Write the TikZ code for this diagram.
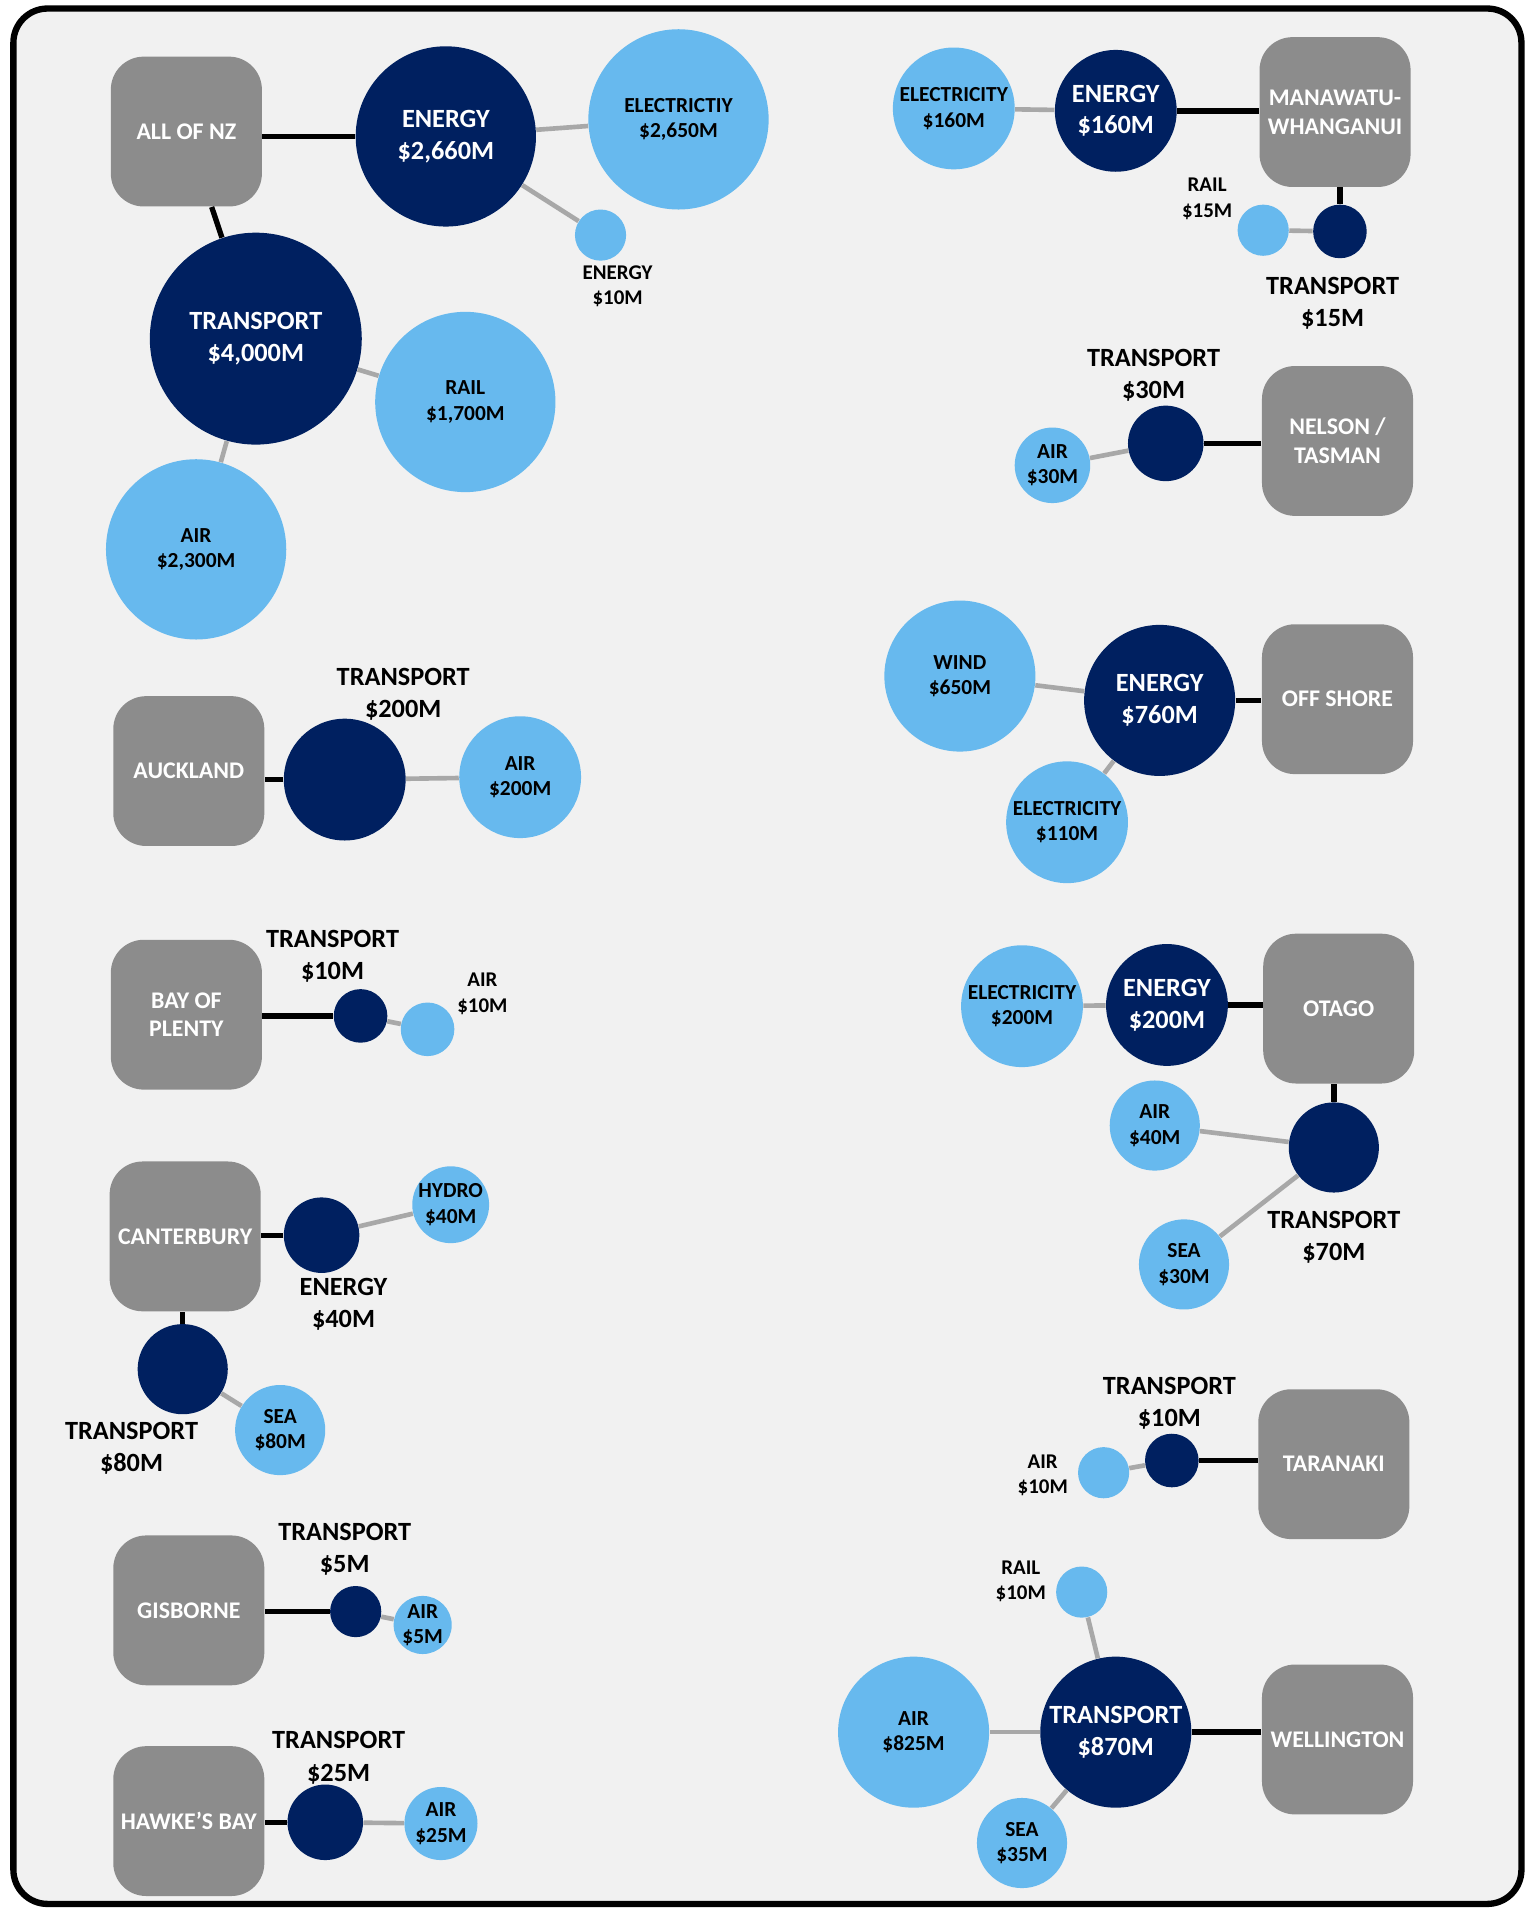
\documentclass[tikz,border=0pt]{standalone}
\usepackage{fontspec}
\setmainfont{Carlito}
\definecolor{navy}{HTML}{002060}
\definecolor{lblue}{HTML}{67B9EE}
\definecolor{boxgray}{HTML}{8C8C8C}
\definecolor{linegray}{HTML}{A8A8A8}
\definecolor{bgc}{HTML}{F1F1F1}
\tikzset{
  region/.style={fill=boxgray, rounded corners=13.5pt, minimum width=62pt, minimum height=61.5pt,
    text=white, font=\bfseries\fontsize{9.8}{11.8}\selectfont, align=center, inner sep=0pt},
  hub/.style={circle, fill=navy, inner sep=0pt, text=white, align=center,
    font=\bfseries\fontsize{10.8}{13}\selectfont},
  leaf/.style={circle, fill=lblue, inner sep=0pt, text=black, align=center,
    font=\bfseries\fontsize{8.8}{10.5}\selectfont},
  lbl/.style={align=center, inner sep=0pt, font=\bfseries\fontsize{10.8}{13.2}\selectfont},
  slbl/.style={align=center, inner sep=0pt, font=\bfseries\fontsize{8.6}{10.5}\selectfont},
  blk/.style={line width=2.2pt, black},
  gry/.style={line width=1.9pt, linegray},
  frame/.style={line width=2.6pt, draw=black, fill=bgc, rounded corners=14pt}
}
\begin{document}
\begin{tikzpicture}[x=0.5pt, y=-0.5pt]
\useasboundingbox (0,0) rectangle (1252,1568);
\draw[frame] (11,7) rectangle (1249,1563);

% ALL OF NZ
\node[region] (nz) at (153,108) {ALL OF NZ};
\node[hub, minimum size=74pt] (nzE) at (366,112) {ENERGY\\\$2,660M};
\node[leaf, minimum size=74pt] (nzElec) at (557,98) {ELECTRICTIY\\\$2,650M};
\node[leaf, minimum size=21pt] (nzEn) at (493,193) {};
\node[slbl] (nzEnL) at (507,235) {ENERGY\\\$10M};
\node[hub, minimum size=87pt] (nzT) at (210,278) {TRANSPORT\\\$4,000M};
\node[leaf, minimum size=74pt] (nzRail) at (382,330) {RAIL\\\$1,700M};
\node[leaf, minimum size=74pt] (nzAir) at (161,451) {AIR\\\$2,300M};

% AUCKLAND
\node[region] (akl) at (155,633) {AUCKLAND};
\node[hub, minimum size=50pt] (aklT) at (283,640) {};
\node[lbl] (aklTL) at (331,570) {TRANSPORT\\\$200M};
\node[leaf, minimum size=50pt] (aklAir) at (427,638) {AIR\\\$200M};

% BAY OF PLENTY
\node[region] (bop) at (153,833) {BAY OF\\PLENTY};
\node[hub, minimum size=22pt] (bopT) at (296,834) {};
\node[lbl] (bopTL) at (273,785) {TRANSPORT\\\$10M};
\node[leaf, minimum size=22pt] (bopAir) at (351,845) {};
\node[slbl] (bopAirL) at (396,816) {AIR\\\$10M};

% CANTERBURY
\node[region] (can) at (152,1015) {CANTERBURY};
\node[hub, minimum size=31pt] (canE) at (264,1014) {};
\node[lbl] (canEL) at (282,1071) {ENERGY\\\$40M};
\node[leaf, minimum size=31pt] (canH) at (370,989) {HYDRO\\\$40M};
\node[hub, minimum size=37pt] (canT) at (150,1124) {};
\node[lbl] (canTL) at (108,1189) {TRANSPORT\\\$80M};
\node[leaf, minimum size=37pt] (canSea) at (230,1174) {SEA\\\$80M};

% GISBORNE
\node[region] (gis) at (155,1322) {GISBORNE};
\node[hub, minimum size=21pt] (gisT) at (292,1323) {};
\node[lbl] (gisTL) at (283,1272) {TRANSPORT\\\$5M};
\node[leaf, minimum size=21pt] (gisAir) at (347,1334) {AIR\\\$5M};

% HAWKE'S BAY
\node[region] (hb) at (155,1495) {HAWKE’S BAY};
\node[hub, minimum size=31pt] (hbT) at (267,1496) {};
\node[lbl] (hbTL) at (278,1443) {TRANSPORT\\\$25M};
\node[leaf, minimum size=30pt] (hbAir) at (362,1497) {AIR\\\$25M};

% MANAWATU-WHANGANUI
\node[region] (mw) at (1096,92) {MANAWATU-\\WHANGANUI};
\node[hub, minimum size=50pt] (mwE) at (916,91) {ENERGY\\\$160M};
\node[leaf, minimum size=50pt] (mwElec) at (783,89) {ELECTRICITY\\\$160M};
\node[hub, minimum size=22pt] (mwT) at (1100,190) {};
\node[lbl] (mwTL) at (1094,249) {TRANSPORT\\\$15M};
\node[leaf, minimum size=21pt] (mwRail) at (1037,189) {};
\node[slbl] (mwRailL) at (991,163) {RAIL\\\$15M};

% NELSON / TASMAN
\node[region] (nel) at (1098,362) {NELSON /\\TASMAN};
\node[hub, minimum size=31pt] (nelT) at (957,364) {};
\node[lbl] (nelTL) at (947,308) {TRANSPORT\\\$30M};
\node[leaf, minimum size=31pt] (nelAir) at (864,382) {AIR\\\$30M};

% OFF SHORE
\node[region] (off) at (1098,574) {OFF SHORE};
\node[hub, minimum size=62pt] (offE) at (952,575) {ENERGY\\\$760M};
\node[leaf, minimum size=62pt] (offW) at (788,555) {WIND\\\$650M};
\node[leaf, minimum size=50pt] (offEl) at (876,675) {ELECTRICITY\\\$110M};

% OTAGO
\node[region] (ota) at (1099,828) {OTAGO};
\node[hub, minimum size=50pt] (otaE) at (958,825) {ENERGY\\\$200M};
\node[leaf, minimum size=50pt] (otaEl) at (839,826) {ELECTRICITY\\\$200M};
\node[hub, minimum size=37pt] (otaT) at (1095,942) {};
\node[lbl] (otaTL) at (1095,1016) {TRANSPORT\\\$70M};
\node[leaf, minimum size=37pt] (otaAir) at (948,924) {AIR\\\$40M};
\node[leaf, minimum size=37pt] (otaSea) at (972,1038) {SEA\\\$30M};

% TARANAKI
\node[region] (tar) at (1095,1202) {TARANAKI};
\node[hub, minimum size=22pt] (tarT) at (962,1199) {};
\node[lbl] (tarTL) at (960,1152) {TRANSPORT\\\$10M};
\node[leaf, minimum size=21pt] (tarAir) at (906,1209) {};
\node[slbl] (tarAirL) at (856,1211) {AIR\\\$10M};

% WELLINGTON
\node[region] (wel) at (1098,1428) {WELLINGTON};
\node[hub, minimum size=62pt] (welT) at (916,1422) {TRANSPORT\\\$870M};
\node[leaf, minimum size=62pt] (welAir) at (750,1422) {AIR\\\$825M};
\node[leaf, minimum size=37pt] (welSea) at (839,1513) {SEA\\\$35M};
\node[leaf, minimum size=21pt] (welRail) at (888,1307) {};
\node[slbl] (welRailL) at (838,1298) {RAIL\\\$10M};

% black connectors (region to hub), horizontal
\foreach \h/\r in {nzE/nz, aklT/akl, bopT/bop, canE/can, gisT/gis, hbT/hb}
  \draw[blk] (\h) -- (\h -| \r.east);
\foreach \h/\r in {mwE/mw, nelT/nel, offE/off, otaE/ota, tarT/tar, welT/wel}
  \draw[blk] (\h) -- (\h -| \r.west);
% vertical ones
\foreach \h/\r in {canT/can, mwT/mw, otaT/ota}
  \draw[blk] (\h) -- (\h |- \r.south);
\draw[blk] (nz) -- (nzT);

% grey connectors (hub to leaf)
\foreach \a/\b in {nzE/nzElec, nzE/nzEn, nzT/nzRail, nzT/nzAir, aklT/aklAir, bopT/bopAir,
  canE/canH, canT/canSea, gisT/gisAir, hbT/hbAir, mwE/mwElec, mwT/mwRail, nelT/nelAir,
  offE/offW, offE/offEl, otaE/otaEl, otaT/otaAir, otaT/otaSea, tarT/tarAir,
  welT/welAir, welT/welSea, welT/welRail}
  \draw[gry] (\a) -- (\b);
\end{tikzpicture}
\end{document}
